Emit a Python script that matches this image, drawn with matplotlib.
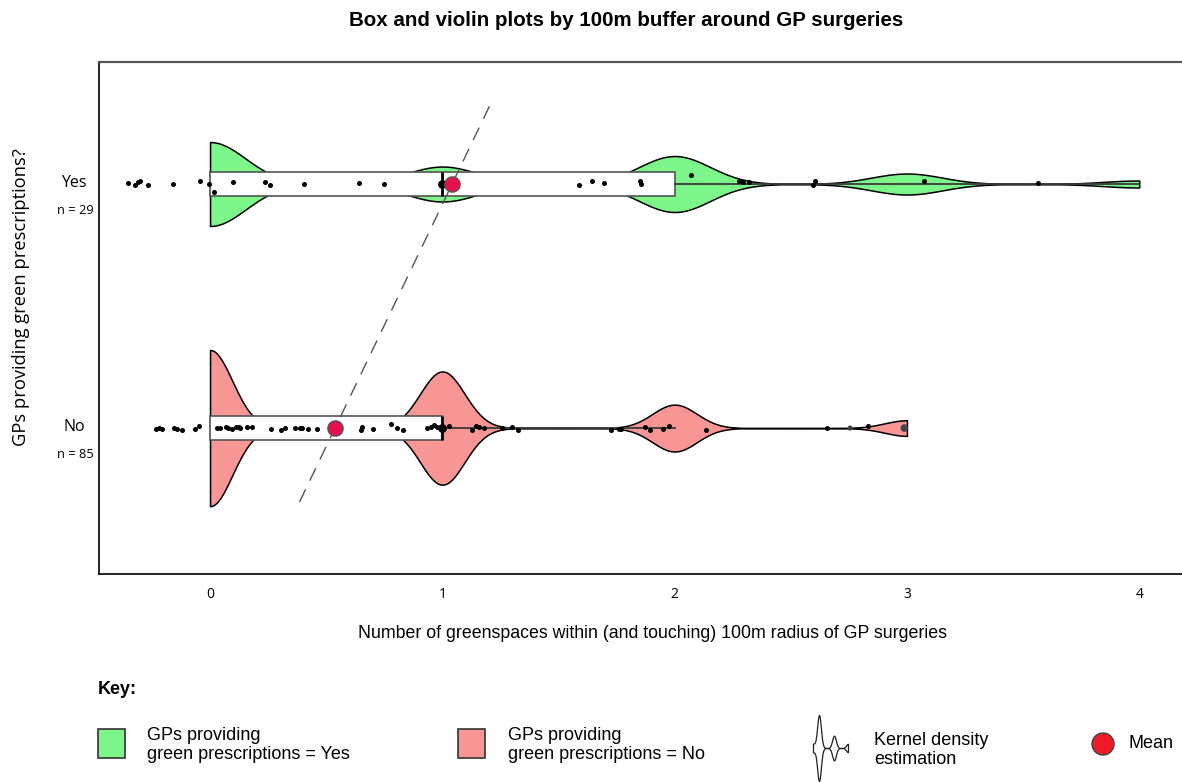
import numpy as np
import matplotlib
matplotlib.use("Agg")
import matplotlib.pyplot as plt
from matplotlib.patches import Rectangle, Circle

plt.rcParams['font.family'] = ['Liberation Sans', 'DejaVu Sans']

# groups, bottom row first
groups = ["No", "Yes"]
group_n = [85, 29]

# greenspace counts per surgery, as frequencies of each value
greenspace_values = [0, 1, 2, 3, 4]
no_counts = [40, 29, 12, 4, 0]
yes_counts = [12, 5, 8, 3, 1]

# box summaries
box_q1 = [0, 0]
box_med = [1, 1]
box_q3 = [1, 2]
box_whislo = [0, 0]
box_whishi = [2, 4]
group_means = [0.538, 1.042]

# jittered strip points
yes_x = [-0.355, -0.325, -0.312, -0.300, -0.266, -0.161, -0.043, -0.005, 0.015,
         0.099, 0.238, 0.258, 0.406, 0.641, 0.750, 1.588, 1.645, 1.696, 1.851,
         1.853, 2.069, 2.279, 2.294, 2.320, 2.594, 2.606, 3.075, 3.562]
yes_jitter = [0.004, -0.004, 0.008, 0.012, -0.004, 0.0, 0.012, 0.0, -0.033,
              0.008, 0.008, -0.004, 0.0, 0.004, 0.0, -0.004, 0.012, 0.004, 0.012,
              0.0, 0.037, 0.012, 0.008, 0.008, -0.004, 0.012, 0.012, 0.004]
no_x = [-0.232, -0.218, -0.207, -0.155, -0.141, -0.119, -0.065, -0.047,
        0.031, 0.044, 0.068, 0.079, 0.095, 0.112, 0.126, 0.130, 0.161, 0.181,
        0.263, 0.306, 0.324, 0.366, 0.389, 0.397, 0.421, 0.462, 0.649, 0.656,
        0.700, 0.779, 0.805, 0.831, 0.933, 0.950, 0.966, 0.978, 1.028, 1.127,
        1.145, 1.156, 1.180, 1.256, 1.299, 1.327, 1.726, 1.761, 1.769, 1.873,
        1.894, 1.951, 1.977, 2.134, 2.657, 2.834]
no_jitter = [-0.004, 0.0, -0.004, 0.0, -0.004, -0.008, -0.004, 0.008,
             0.0, 0.0, 0.004, 0.0, -0.004, 0.004, 0.004, 0.0, 0.004, 0.004,
             -0.004, -0.008, 0.0, 0.0, 0.0, 0.0, -0.004, -0.004, -0.008, 0.004,
             -0.004, 0.016, 0.0, -0.008, 0.0, 0.004, 0.012, 0.004, 0.008, -0.008,
             0.008, 0.004, 0.0, 0.0, 0.004, -0.008, -0.008, -0.004, -0.004, 0.004,
             -0.008, -0.004, 0.008, -0.008, 0.0, 0.008]
no_outlier_x = [2.755, 2.989]
no_outlier_size = [14, 30]

# shape used for the kernel density key icon
kde_icon_values = [813] + [819] * 8 + [834] * 3 + [848]

green = "#7cf58a"
pink = "#f89696"

W, H = 1182, 782
fig = plt.figure(figsize=(W / 100, H / 100), dpi=100)
ax = fig.add_axes([99 / W, 1 - 574 / H, 1 - 99 / W, (574 - 62) / H])
ax.set_xlim(-0.478, 4.184)
ax.set_ylim(-0.598, 1.5)

# violins
fills = [pink, green]
v_widths = [0.64, 0.344]
v_bw = [0.11, 0.128]
for i, counts in enumerate([no_counts, yes_counts]):
    data = np.repeat(greenspace_values, counts)
    vp = ax.violinplot([data], positions=[i], widths=v_widths[i],
                       orientation='horizontal', showextrema=False,
                       bw_method=v_bw[i], points=500)
    for body in vp['bodies']:
        body.set_facecolor(fills[i])
        body.set_edgecolor('black')
        body.set_linewidth(1.1)
        body.set_alpha(1)

# boxes
stats = [dict(q1=box_q1[i], med=box_med[i], q3=box_q3[i],
              whislo=box_whislo[i], whishi=box_whishi[i], fliers=[])
         for i in range(2)]
ax.bxp(stats, positions=[0, 1], widths=0.098, orientation='horizontal',
       patch_artist=True, showcaps=False, showfliers=False, manage_ticks=False,
       boxprops=dict(facecolor='white', edgecolor='#555555', linewidth=1.2),
       medianprops=dict(color='black', linewidth=2),
       whiskerprops=dict(color='#3a3a3a', linewidth=1.3))

# strip points
ax.scatter(yes_x, 1 + np.array(yes_jitter), s=13, c='black', lw=0, zorder=4)
ax.scatter(no_x, np.array(no_jitter), s=13, c='black', lw=0, zorder=4)
ax.scatter(no_outlier_x, [0, 0], s=no_outlier_size, c='#444444', lw=0, zorder=4)
ax.scatter(box_med, [0, 1], s=40, c='black', lw=0, zorder=4)

# line through the two means
y_ext = np.array([-0.303, 1.352])
x_ext = group_means[0] + (group_means[1] - group_means[0]) * y_ext
ax.plot(x_ext, y_ext, ls=(0, (10, 7)), color='#555555', lw=1, zorder=5)
ax.scatter(group_means, [0, 1], s=120, c='#e8104a', edgecolors='#555555',
           linewidths=1, zorder=6)

ax.spines['right'].set_visible(False)
ax.spines['top'].set_color('#555555')
ax.spines['top'].set_linewidth(1.6)
ax.spines['left'].set_linewidth(1.2)
ax.spines['bottom'].set_linewidth(1.2)
ax.set_xticks(range(5))
ax.tick_params(axis='x', length=0, pad=9, labelsize=10)
for lab in ax.get_xticklabels():
    lab.set_family('Open Sans')
ax.set_yticks([])

for i, (g, n) in enumerate(zip(groups, group_n)):
    ax.annotate(g, xy=(0, i), xycoords=('axes fraction', 'data'),
                xytext=(-18, 1), textcoords='offset points', ha='center',
                va='center', fontsize=11.5, family='Open Sans')
    ax.annotate(f"n = {n}", xy=(0, i), xycoords=('axes fraction', 'data'),
                xytext=(-17, -19), textcoords='offset points', ha='center',
                va='center', fontsize=9.3, family='Open Sans')

fig.text(21 / W, 1 - 297 / H, "GPs providing green prescriptions?", rotation=90,
         ha='center', va='center', fontsize=13.2, family='Open Sans')
fig.text(652 / W, 1 - 633 / H,
         "Number of greenspaces within (and touching) 100m radius of GP surgeries",
         ha='center', va='center', fontsize=12.8)
fig.text(626 / W, 1 - 20 / H, "Box and violin plots by 100m buffer around GP surgeries",
         ha='center', va='center', fontsize=14.8, fontweight='bold')

# key along the bottom, laid out in pixel units
lax = fig.add_axes([0, 0, 1, 1])
lax.set_xlim(0, W)
lax.set_ylim(H, 0)
lax.axis('off')
lax.text(98, 690, "Key:", fontsize=13, fontweight='bold', va='center')
lax.add_patch(Rectangle((98, 729), 27, 29, facecolor=green, edgecolor='#333333', lw=1.2))
lax.text(147, 745, "GPs providing\ngreen prescriptions = Yes", fontsize=13,
         va='center', linespacing=1.2)
lax.add_patch(Rectangle((458, 729), 27, 29, facecolor=pink, edgecolor='#333333', lw=1.2))
lax.text(508, 745, "GPs providing\ngreen prescriptions = No", fontsize=13,
         va='center', linespacing=1.2)
kp = lax.violinplot([kde_icon_values], positions=[748], widths=66,
                    orientation='horizontal', showextrema=False,
                    bw_method=0.19, points=400)
for body in kp['bodies']:
    body.set_facecolor('white')
    body.set_edgecolor('#222222')
    body.set_linewidth(0.9)
    body.set_alpha(1)
lax.text(874, 750, "Kernel density\nestimation", fontsize=13, va='center',
         linespacing=1.2)
lax.add_patch(Circle((1103, 744), 11, facecolor='#ee1c25', edgecolor='#444444', lw=1))
lax.text(1129, 744, "Mean", fontsize=13, va='center')
lax.set_xlim(0, W)
lax.set_ylim(H, 0)

fig.savefig("out.png", dpi=100)
